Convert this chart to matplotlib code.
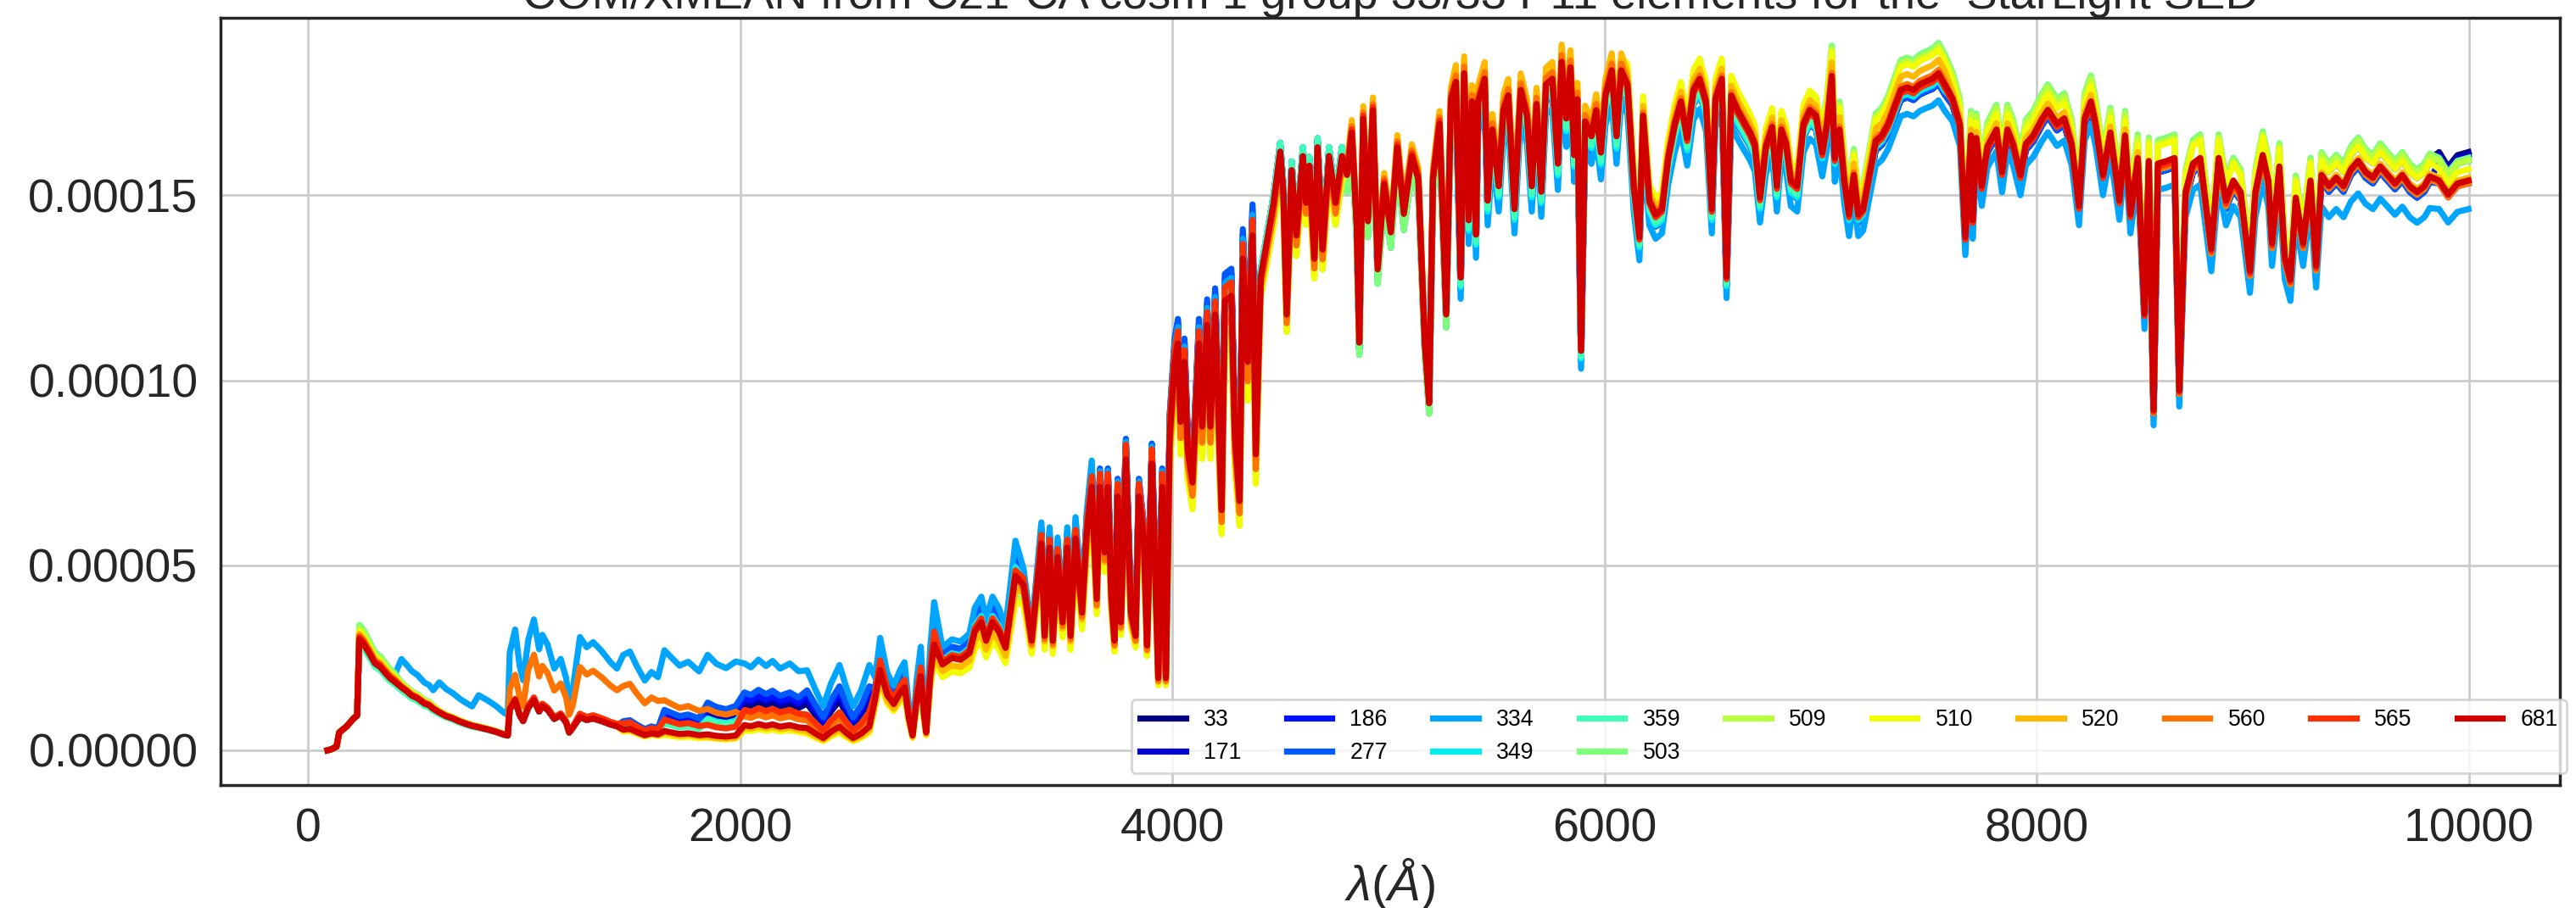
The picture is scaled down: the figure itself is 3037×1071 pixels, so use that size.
import numpy as np
import matplotlib
matplotlib.use("Agg")
import matplotlib.pyplot as plt
from matplotlib.ticker import FormatStrFormatter

plt.rcParams['font.family'] = ['Liberation Sans', 'DejaVu Sans']
plt.rcParams['mathtext.fontset'] = 'custom'
plt.rcParams['mathtext.rm'] = 'Liberation Sans'
plt.rcParams['mathtext.it'] = 'Liberation Sans:italic'

TITLE = "COM/XMEAN from C21-CA cosm 1 group 33/33 P11 elements for the  StarLight SED"
XLABEL = r"$\lambda(Å)$"

LABELS = ['33', '171', '186', '277', '334', '349', '359',
          '503', '509', '510', '520', '560', '565', '681']

# wavelength grid (Angstrom)
WAVE = [
    91, 110, 133, 145, 180, 213, 228, 238, 255, 283, 310, 335, 358, 380, 400, 433,
    460, 480, 508, 540, 560, 580, 608, 640, 670, 700, 733, 760, 790, 833, 870, 909,
    925, 934, 959, 980, 996, 1020, 1046, 1070, 1085, 1109, 1140, 1170, 1195, 1209,
    1225, 1259, 1290, 1320, 1359, 1400, 1430, 1459, 1490, 1520, 1559, 1590, 1620,
    1650, 1684, 1720, 1760, 1810, 1850, 1890, 1935, 1980, 2020, 2050, 2085, 2120,
    2150, 2185, 2230, 2270, 2310, 2350, 2385, 2420, 2460, 2490, 2523, 2560, 2598,
    2625, 2648, 2680, 2711, 2740, 2761, 2780, 2798, 2818, 2836, 2850, 2861, 2880,
    2898, 2936, 2980, 3020, 3061,
    3086, 3116, 3138, 3168, 3198, 3228, 3274, 3311, 3349, 3394, 3409, 3432, 3447,
    3469, 3492, 3514, 3529, 3552, 3582, 3604, 3627, 3650, 3665, 3687, 3702, 3717,
    3732, 3747, 3762, 3785, 3808, 3830, 3845, 3868, 3883, 3905, 3917, 3935, 3953,
    3970, 3988, 4011, 4026, 4038, 4056, 4071, 4093, 4123, 4138, 4161, 4176, 4198,
    4228, 4243, 4273, 4289, 4311, 4326, 4349, 4371, 4386, 4409, 4439, 4469, 4499,
    4514, 4529, 4552, 4574, 4604, 4619, 4634, 4657, 4672, 4695, 4725, 4755, 4785,
    4808, 4830, 4853, 4865, 4883, 4905, 4928, 4950, 4980, 5011, 5041, 5071, 5108,
    5138, 5168, 5188, 5206, 5236, 5267, 5289, 5312, 5334,
    5350, 5371, 5386, 5405, 5415, 5445, 5459, 5481, 5510, 5532, 5554, 5583, 5612,
    5641, 5663, 5685, 5707, 5729, 5758, 5784, 5801, 5823, 5842, 5859, 5874, 5891,
    5910, 5939, 5961, 5983, 6004, 6033, 6055, 6077, 6106, 6135, 6161, 6178, 6207,
    6236, 6265, 6294, 6324, 6353, 6382, 6411, 6440, 6469, 6496, 6513, 6542, 6564,
    6586, 6615, 6644, 6673, 6695, 6719, 6746, 6775, 6797, 6818, 6840, 6862, 6891,
    6920, 6949, 6978, 7007, 7029, 7051, 7065, 7087, 7109, 7131, 7153, 7174, 7196,
    7225, 7254, 7283, 7312, 7341, 7370, 7400, 7429, 7458, 7487, 7516, 7545, 7574,
    7610, 7644, 7669, 7695, 7703, 7720, 7745, 7771, 7813, 7839, 7864, 7890, 7924,
    7949, 7983, 8025, 8051, 8093, 8127, 8161, 8195, 8221, 8250, 8272, 8306, 8340,
    8382, 8408, 8433, 8467, 8498, 8518, 8540, 8560, 8603, 8637, 8659, 8688, 8722,
    8756, 8807, 8841, 8875, 8909, 8943, 8986, 9011, 9045, 9071, 9088, 9122, 9147,
    9173, 9198, 9232, 9266, 9292, 9317, 9351, 9385, 9419, 9453, 9487, 9521, 9555,
    9589, 9623, 9657, 9691, 9725, 9759, 9793, 9818, 9861, 9903, 9946, 9997,
]

# flux of group 681 in units of 1e-6
FLUX_681_E6 = [
    0.0, 0.3, 1.0, 4.8, 6.5, 8.7, 9.4, 30.0, 29.0, 26.3, 23.5, 22.5, 20.9, 19.5, 18.6, 17.0,
    15.8, 14.8, 14.0, 12.6, 12.2, 11.2, 10.2, 9.2, 8.6, 7.8, 7.1, 6.6, 6.2, 5.6, 5.0, 4.2,
    4.0, 11.0, 13.6, 9.5, 7.9, 11.5, 13.6, 10.5, 12.0, 11.0, 8.5, 9.5, 7.5, 4.8,
    6.0, 9.0, 8.2, 8.6, 7.9, 7.0, 6.5, 5.6, 5.8, 5.0, 4.1, 4.6, 4.3,
    5.2, 4.8, 4.4, 4.6, 4.1, 4.3, 3.9, 3.7, 4.0, 6.8, 6.5, 7.1, 6.6,
    7.0, 6.4, 6.8, 6.2, 6.0, 4.5, 3.3, 5.0, 6.4, 4.8, 3.3, 4.5, 6.4,
    14.0, 21.7, 15.0, 12.5, 15.5, 17.0, 9.0, 4.0, 14.0, 20.0, 10.0, 4.8, 20.0,
    28.6, 23.2, 25.0, 24.5, 26.3,
    32.1, 34.6, 29.6, 34.6, 32.0, 27.7, 47.2, 44.7, 29.6, 56.0, 30.9, 54.8, 29.6,
    52.3, 34.6, 54.8, 30.9, 57.3, 37.2, 58.6, 71.2, 40.9, 71.2, 53.5, 71.2, 42.2,
    29.6, 68.6, 34.6, 78.7, 37.2, 30.9, 68.6, 57.3, 28.3, 77.5, 56.0, 19.5, 71.2,
    19.5, 85.0, 105.2, 110.0, 88.8, 105.0, 81.2, 72.4, 110.0, 87.5, 115.0, 87.5, 117.8,
    64.9, 121.5, 122.8, 85.0, 67.4, 132.9, 105.0, 139.2, 80.0, 127.8, 137.9, 148.0, 161.8,
    150.5, 117.8, 156.8, 139.2, 160.6, 148.0, 158.0, 132.9, 163.0, 135.4, 160.6, 148.0, 160.6,
    155.5, 167.0, 141.7, 110.2, 170.7, 143.0, 173.0, 130.0, 153.0, 140.0, 163.0, 145.0, 160.6,
    154.3, 110.0, 93.8, 154.3, 169.4, 117.8, 175.7, 180.7, 127.8,
    183.0, 143.3, 175.4, 139.4, 175.4, 181.5, 148.6, 167.8, 152.5, 173.1, 177.0, 146.3, 178.5,
    171.6, 152.5, 174.7, 151.0, 180.0, 181.5, 158.6, 186.1, 170.8, 184.6, 160.9, 176.0, 108.0,
    170.0, 166.0, 173.0, 161.6, 177.0, 183.8, 166.0, 183.8, 180.0, 152.5, 138.7, 171.6, 148.6,
    144.8, 146.3, 160.1, 169.3, 175.4, 165.5, 178.5, 181.5, 175.4, 146.3, 176.2, 181.5, 128.0,
    177.0, 173.1, 170.0, 167.0, 163.9, 149.4, 163.2, 168.5, 152.5, 167.8, 163.9, 154.0, 152.5,
    169.3, 173.1, 171.6, 161.6, 169.3, 182.3, 160.1, 167.8, 154.0, 144.8, 155.5, 144.8, 146.3,
    155.5, 164.7, 166.2, 169.3, 173.9, 178.5, 179.2, 178.5, 180.0, 180.8, 181.5, 183.0, 180.0,
    176.2, 169.3, 138.7, 166.2, 143.3, 165.5, 152.5, 163.2, 167.8, 156.3, 167.8, 163.9, 155.5,
    163.9, 166.2, 170.8, 173.1, 169.3, 170.8, 163.9, 147.1, 170.8, 175.4, 169.3, 155.5, 167.0,
    148.6, 166.2, 144.8, 160.1, 118.0, 159.3, 92.0, 158.6, 159.3, 160.1, 97.3, 150.9, 158.6,
    160.1, 135.6, 160.1, 148.6, 154.0, 150.9, 129.5, 150.9, 160.9, 154.0, 137.1, 157.8, 133.3,
    127.2, 149.4, 137.1, 154.0, 131.0, 155.5, 152.5, 154.8, 152.5, 157.0, 159.3, 156.3, 154.8,
    157.8, 155.5, 153.2, 155.5, 152.5, 150.9, 152.5, 155.1, 154.0, 150.2, 153.2, 154.0,
]

# wavelength bands (lower edges) in which each group's flux ratio to group 681 is read
BAND_EDGES = [0, 236, 420, 600, 780, 930, 1000, 1200, 1250, 1450, 1650, 1850, 2000, 2300,
              2600, 2900, 3300, 3650, 4000, 4400, 4800, 5300, 6100, 7000, 7600, 8500, 9300, 9850]

RATIO_33 = [1, 1, 1, 1, 1, 1, 1, 1, 1, 1.2, 1.7, 2.3, 1.85, 2.1,
            1.08, 1.06, 1.05, 1.04, 1.03, 1.01, 0.985, 0.98, 0.98, 0.985, 0.99, 0.985, 1.03, 1.05]
RATIO_171 = [1, 1, 1, 1, 1, 1, 1, 1, 1, 1.25, 1.8, 2.5, 2.0, 2.3,
             1.1, 1.07, 1.06, 1.05, 1.04, 1.012, 0.985, 0.98, 0.98, 0.985, 0.99, 0.985, 1.025, 1.045]
RATIO_186 = [1, 1, 1, 1, 1, 1, 1, 1, 1, 1.3, 1.9, 2.7, 2.1, 2.5,
             1.15, 1.1, 1.07, 1.06, 1.05, 1.015, 0.985, 0.975, 0.978, 0.985, 0.99, 0.985, 0.99, 1.035]
RATIO_277 = [1, 1, 1, 1, 1, 1, 1, 1, 1, 1.4, 2.1, 3.0, 2.3, 2.7,
             1.2, 1.12, 1.08, 1.07, 1.06, 1.015, 0.985, 0.975, 0.978, 0.985, 0.99, 0.985, 0.99, 0.995]
RATIO_334 = [1, 1.08, 1.45, 1.8, 2.4, 2.4, 2.6, 2.7, 3.4, 4.6, 5.2, 6.0, 3.45, 3.6,
             1.4, 1.2, 1.1, 1.06, 1.04, 1.01, 0.97, 0.955, 0.955, 0.96, 0.965, 0.955, 0.945, 0.95]
RATIO_349 = [1, 0.97, 0.97, 0.98, 1, 1, 1, 1, 1, 1.15, 1.5, 2.0, 1.5, 1.6,
             1.05, 1.05, 1.03, 1.02, 1.02, 1.015, 0.985, 0.98, 0.98, 0.99, 1.0, 0.99, 1.03, 1.035]
RATIO_359 = [1, 0.96, 0.95, 0.96, 0.97, 1, 1, 1, 1, 1.1, 1.4, 1.9, 1.4, 1.5,
             1.05, 1.03, 1.02, 1.01, 1.01, 1.015, 0.985, 0.985, 0.985, 1.0, 1.0, 0.99, 1.035, 1.035]
RATIO_503 = [1, 1.13, 1.08, 1.05, 1.05, 1.03, 1.03, 1.03, 1.03, 1.0, 0.9, 0.9, 0.85, 0.85,
             0.9, 0.88, 0.9, 0.92, 0.92, 0.96, 0.97, 1.005, 1.02, 1.045, 1.04, 1.04, 1.04, 1.04]
RATIO_509 = [1, 1.1, 1.06, 1.04, 1.04, 1.02, 1.02, 1.02, 1.02, 0.95, 0.85, 0.85, 0.85, 0.8,
             0.88, 0.87, 0.9, 0.91, 0.91, 0.96, 1.0, 1.015, 1.025, 1.04, 1.035, 1.035, 1.035, 1.035]
RATIO_510 = [1, 1.07, 1.05, 1.04, 1.03, 1.02, 1.02, 1.02, 1.02, 0.9, 0.8, 0.8, 0.8, 0.75,
             0.85, 0.85, 0.88, 0.9, 0.9, 0.96, 1.01, 1.02, 1.03, 1.035, 1.025, 1.03, 1.025, 1.02]
RATIO_520 = [1, 1.05, 1.03, 1.02, 1.02, 1.01, 1.01, 1.01, 1.01, 0.95, 0.9, 0.85, 0.9, 0.85,
             0.9, 0.92, 0.95, 0.95, 0.96, 0.99, 1.02, 1.025, 1.015, 1.02, 1.01, 1.0, 1.005, 1.005]
RATIO_560 = [1, 1.03, 1.02, 1.02, 1.02, 1.5, 1.9, 2.0, 2.5, 3.1, 2.6, 2.6, 1.35, 1.35,
             1.1, 1.0, 0.97, 0.96, 0.95, 0.98, 1.01, 1.01, 1.005, 1.005, 1.0, 0.99, 0.995, 0.995]
RATIO_565 = [1, 1.02, 1.01, 1.01, 1.01, 1.02, 1.05, 1.05, 1.1, 1.3, 1.6, 1.6, 1.6, 1.6,
             1.12, 1.03, 1.04, 1.05, 1.03, 1.0, 1.005, 1.0, 0.995, 0.995, 0.995, 0.995, 1.0, 1.0]
RATIO_681 = [1] * 28

RATIOS = [RATIO_33, RATIO_171, RATIO_186, RATIO_277, RATIO_334, RATIO_349, RATIO_359,
          RATIO_503, RATIO_509, RATIO_510, RATIO_520, RATIO_560, RATIO_565, RATIO_681]

XTICKS = [0, 2000, 4000, 6000, 8000, 10000]
YTICKS = [0.0, 0.00005, 0.00010, 0.00015]

# ------------------------------------------------------------------
W = 3037
H = 1071
DPI = 200
fig = plt.figure(figsize=(W / DPI, H / DPI), dpi=DPI)
ax = fig.add_axes([260 / W, 1 - 926 / H, (3018 - 260) / W, (926 - 21) / H])

wave = np.array(WAVE, dtype=float)
base = np.array(FLUX_681_E6) * 1e-6
band = np.searchsorted(np.array(BAND_EDGES), wave, side='right') - 1

cmap = plt.get_cmap('jet')
n = len(LABELS)
for i, (lab, ratio) in enumerate(zip(LABELS, RATIOS)):
    flux = base * np.array(ratio)[band]
    ax.plot(wave, flux, color=cmap(i / n), lw=2.6, label=lab, zorder=2 + i * 0.01)

ax.set_xlim(-404, 10420)
ax.set_ylim(-0.0000094, 0.0001980)
ax.set_xticks(XTICKS)
ax.set_yticks(YTICKS)
ax.yaxis.set_major_formatter(FormatStrFormatter('%.5f'))

ax.grid(True, color='0.8', lw=1.0, zorder=0)
ax.set_axisbelow(True)
for sp in ax.spines.values():
    sp.set_color('0.15')
    sp.set_linewidth(1.25)
ax.tick_params(axis='both', length=0, pad=9.5, labelsize=20, colors='0.15')

ax.set_xlabel(XLABEL, fontsize=21, color='0.15', labelpad=2)
ax.set_title(TITLE, fontsize=19.6, color='0.15', pad=4)

leg = ax.legend(loc='lower right', bbox_to_anchor=(1.003, 0.0155), borderaxespad=0,
                ncol=10, fontsize=9.6, frameon=True, fancybox=True,
                edgecolor='0.8', framealpha=0.8)
for line in leg.get_lines():
    line.set_linewidth(2.6)
leg.set_zorder(10)

fig.savefig('out.png', dpi=DPI)
